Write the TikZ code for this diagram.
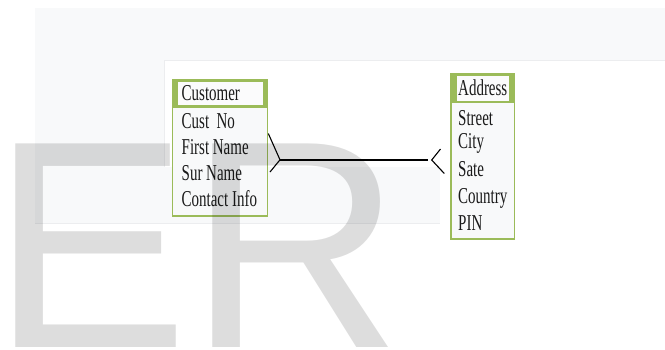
\documentclass[tikz,border=0pt]{standalone}
\usepackage{fontspec}
\setmainfont{Liberation Serif}
\newfontfamily\attrfont[FakeStretch=0.66]{Liberation Serif}
\newfontfamily\bigfont{Liberation Sans}

\definecolor{panel}{HTML}{F8F9FA}
\definecolor{panelline}{HTML}{ECEDEF}
\definecolor{olive}{HTML}{9BBB59}
\definecolor{ink}{HTML}{1A1A1A}

\tikzset{
  attr/.style={anchor=base west, inner sep=0pt, text=ink,
               font=\attrfont\fontsize{22.7}{26}\selectfont},
  body/.style={draw=olive, line width=1.3pt, fill=panel},
  headframe/.style={fill=olive},
  headinner/.style={fill=panel!60!white},
  rel/.style={draw=black, line width=1.6pt},
  foot/.style={draw=black, line width=1.1pt},
  watermark/.style={anchor=base west, inner sep=0pt, text=black,
                    text opacity=0.135,
                    font=\bigfont\fontsize{296}{296}\selectfont}
}

\begin{document}
\begin{tikzpicture}[x=1pt, y=-1pt]
\useasboundingbox (0,0) rectangle (665,349);
\fill[white] (0,0) rectangle (665,349);

% page panels
\fill[panel] (35,8) rectangle (665,60);
\draw[panelline, line width=0.8pt] (35,60) -- (665,60);
\fill[panel] (35,60) rectangle (165,223);
\fill[panel] (165,167) rectangle (440,223);
\draw[panelline, line width=0.6pt] (164.5,60) -- (164.5,167);
\draw[panelline, line width=0.8pt] (35,223) -- (440,223);

% Customer entity
\path[body] (172.7,79.3) rectangle (267.3,216);
\node[inner sep=0pt, minimum width=94.6pt, minimum height=136.7pt] (cust) at (220,147.65) {};
\path[headframe] (172.7,79.3) rectangle (267.3,108.3);
\path[headinner] (178.3,81.7) rectangle (262.7,105.3);
\node[attr] (custtitle) at (181.5,100) {Customer};
\node[attr] (custno)  at (181.5,128.5) {Cust\ \ No};
\node[attr] (fname)   at (181.5,154)   {First Name};
\node[attr] (sname)   at (181.5,180)   {Sur Name};
\node[attr] (contact) at (181.5,206.5) {Contact Info};

% Address entity
\path[body] (451,73.3) rectangle (514.5,239);
\node[inner sep=0pt, minimum width=63.5pt, minimum height=165.7pt] (addr) at (482.75,156.15) {};
\path[headframe] (451,73.3) rectangle (514.5,103.3);
\path[headinner] (456.7,76) rectangle (509,101);
\node[attr] (addrtitle) at (458,95.5) {Address};
\node[attr] (street)  at (458,125) {Street};
\node[attr] (city)    at (458,148) {City};
\node[attr] (state)   at (458,176) {Sate};
\node[attr] (country) at (458,203) {Country};
\node[attr] (pin)     at (458,230) {PIN};

% relationship: crow's foot at both ends
\coordinate (lfoot) at (280,159.8);
\coordinate (lup)   at (268.3,133.5);
\coordinate (ldown) at (270,172);
\coordinate (rend)  at (428.3,159.8);
\coordinate (rfoot) at (431.7,160);
\coordinate (rup)   at (440.5,149);
\coordinate (rdown) at (444.3,173.5);

\draw[rel] (lfoot) -- (rend);
\draw[foot] (lup) -- (lfoot) -- (ldown);
\draw[foot] (rup) -- (rfoot) -- (rdown);

% translucent title letters over everything
\node[watermark] (title) at (-8.8,347) {ER};
\end{tikzpicture}
\end{document}
